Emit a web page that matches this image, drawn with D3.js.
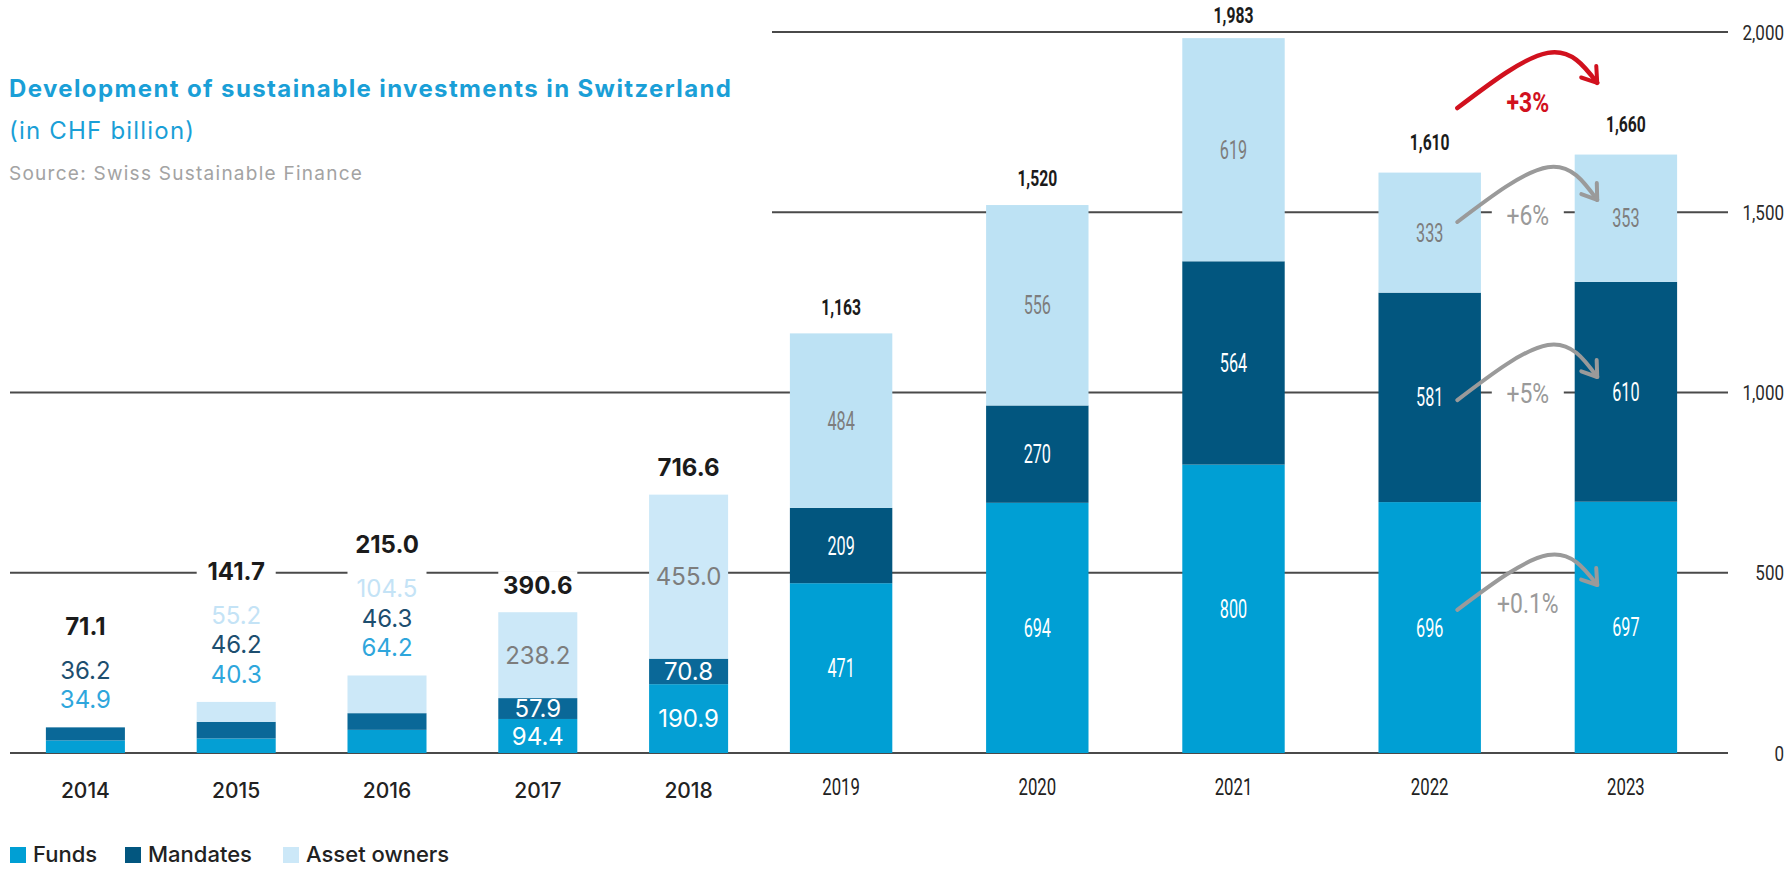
<!DOCTYPE html>
<html><head><meta charset="utf-8">
<script src="https://cdn.jsdelivr.net/npm/d3@7"></script>
<style>body{margin:0;background:#fff;} svg{display:block}</style>
</head><body>
<svg id="chart" width="1786" height="871"></svg>
<script>
// ---------------- DATA ----------------
const years = ["2014","2015","2016","2017","2018","2019","2020","2021","2022","2023"];
const funds = [34.9, 40.3, 64.2, 94.4, 190.9, 471, 694, 800, 696, 697];
const mandates = [36.2, 46.2, 46.3, 57.9, 70.8, 209, 270, 564, 581, 610];
const assetOwners = [0, 55.2, 104.5, 238.2, 455.0, 484, 556, 619, 333, 353];
const totals = [71.1, 141.7, 215.0, 390.6, 716.6, 1163, 1520, 1983, 1610, 1660];
const seriesKeys = ["funds", "mandates", "assetOwners"];
const seriesNames = ["Funds", "Mandates", "Asset owners"];
const yTicks = [0, 500, 1000, 1500, 2000];
const leftYears = years.slice(0, 5);
const rightYears = years.slice(5);
const labelsAboveYears = ["2014", "2015", "2016"];
// change annotations 2022 -> 2023 (values in CHF bn on the y scale)
const changeLabels = ["+6%", "+5%", "+0.1%", "+3%"];
const changeStart = [1473, 979, 397, 1789];
const changePeak = [1625, 1132, 549, 1942];
const changeEnd = [1534, 1043, 466, 1859];
const changeTextAt = [1492, 998, 416, 1806];
const changeIsTotal = [false, false, false, true];

// ---------------- SETUP ----------------
const svg = d3.select("#chart");
function hasFont(name){
  const c = document.createElement("canvas").getContext("2d");
  const s = "1234567890,+% abcdefgh";
  c.font = "40px monospace"; const w0 = c.measureText(s).width;
  c.font = `40px '${name}', monospace`; const w1 = c.measureText(s).width;
  return Math.abs(w0 - w1) > 0.5;
}
const narrowOK = hasFont("Liberation Sans Narrow");
const NF = narrowOK ? "'Liberation Sans Narrow', 'DejaVu Sans Condensed', Roboto, sans-serif" : "Roboto, sans-serif";
const NK = narrowOK ? 1 : 0.81;
const WF = "Inter, Roboto, 'Open Sans', sans-serif";

const colorsLeft = {funds: "#049fd4", mandates: "#0a6898", assetOwners: "#cce8f8"};
const colorsRight = {funds: "#009fd4", mandates: "#02567f", assetOwners: "#bde2f4"};
const aboveColors = {funds: "#2ea6dc", mandates: "#1d4e6f", assetOwners: "#c4e3f6"};

const y = d3.scaleLinear().domain([0, 2000]).range([753, 32]);
const xL = d3.scaleBand().domain(leftYears).range([10, 764]).paddingInner(0.476).paddingOuter(0.238);
const xR = d3.scaleBand().domain(rightYears).range([743, 1724]).paddingInner(0.478).paddingOuter(0.239);
const isLeft = yr => leftYears.includes(yr);
const xs = yr => isLeft(yr) ? xL : xR;
const bx = yr => xs(yr)(yr);
const bw = yr => xs(yr).bandwidth();
const cx = yr => bx(yr) + bw(yr) / 2;

const rows = years.map((yr, i) => ({year: yr, funds: funds[i], mandates: mandates[i], assetOwners: assetOwners[i], total: totals[i]}));
const stacked = d3.stack().keys(seriesKeys)(rows);

function ctext(sel, x, yy, txt, o) {
  const g = sel.append("g").attr("transform", `translate(${x},${yy}) scale(${(o.sx || 1) * NK},1)`);
  return g.append("text").attr("text-anchor", o.anchor || "middle").attr("dy", "0.36em")
    .attr("font-family", NF).attr("font-size", o.size).attr("font-weight", o.weight || 400)
    .attr("fill", o.fill).text(txt);
}
function wtext(sel, x, yy, txt, o) {
  return sel.append("text").attr("x", x).attr("y", yy).attr("text-anchor", o.anchor || "middle").attr("dy", o.dy || "0.36em")
    .attr("font-family", WF).attr("font-size", o.size).attr("font-weight", o.weight || 400)
    .attr("fill", o.fill).text(txt);
}

// ---------------- GRIDLINES ----------------
const gridStart = t => t >= 1500 ? 772 : 10;
svg.append("g").selectAll("line").data(yTicks).join("line")
  .attr("x1", d => gridStart(d)).attr("x2", 1728)
  .attr("y1", d => y(d)).attr("y2", d => y(d))
  .attr("stroke", "#4a4a4a").attr("stroke-width", 2.2);

// right axis labels
const axisG = svg.append("g");
yTicks.forEach(t => ctext(axisG, 1784, y(t), d3.format(",")(t), {size: 21, fill: "#2a2a2a", anchor: "end"}));

// ---------------- WHITE BACKS BEHIND LEFT LABELS ----------------
const fmtL = d3.format(".1f"), fmtR = d3.format(",.0f");
const backG = svg.append("g");
rows.filter(r => isLeft(r.year)).forEach(r => {
  let topLabelY;
  if (labelsAboveYears.includes(r.year)) {
    const n = seriesKeys.filter(k => r[k] > 0).length;
    topLabelY = y(r.total) - 28 - (n - 1) * 29.5 - 44;
  } else topLabelY = y(r.total) - 27;
  backG.append("rect").attr("x", bx(r.year)).attr("width", bw(r.year))
    .attr("y", topLabelY - 14).attr("height", y(r.total) - topLabelY + 14).attr("fill", "#fff");
});

// ---------------- BARS ----------------
const barG = svg.append("g");
stacked.forEach(s => {
  barG.append("g").selectAll("rect").data(s.filter(d => d[1] - d[0] > 0)).join("rect")
    .attr("x", d => bx(d.data.year)).attr("width", d => bw(d.data.year))
    .attr("y", d => y(d[1])).attr("height", d => y(d[0]) - y(d[1]))
    .attr("fill", d => (isLeft(d.data.year) ? colorsLeft : colorsRight)[s.key]);
});

// ---------------- LABELS ----------------
const labG = svg.append("g");
rows.forEach((r, i) => {
  const left = isLeft(r.year);
  const fmt = left ? fmtL : fmtR;
  if (labelsAboveYears.includes(r.year)) {
    let ly = y(r.total) - 28;
    seriesKeys.forEach(k => {
      if (r[k] > 0) {
        wtext(labG, cx(r.year), ly, fmt(r[k]), {size: 24, fill: aboveColors[k]});
        ly -= 29.5;
      }
    });
    wtext(labG, cx(r.year), ly + 29.5 - 44, fmt(r.total), {size: 24, weight: 700, fill: "#1b1b1b"});
  } else {
    seriesKeys.forEach((k, j) => {
      const seg = stacked[j][i];
      const my = (y(seg[0]) + y(seg[1])) / 2;
      const fill = k === "assetOwners" ? "#7d7d7d" : "#ffffff";
      if (left) wtext(labG, cx(r.year), my, fmt(r[k]), {size: 24, fill});
      else ctext(labG, cx(r.year), my, fmt(r[k]), {size: 25, sx: 0.8, fill});
    });
    if (left) wtext(labG, cx(r.year), y(r.total) - 27, fmt(r.total), {size: 24, weight: 700, fill: "#1b1b1b"});
    else {
      const off = ["2022","2023"].includes(r.year) ? 31 : Math.min(27, y(r.total) - 15);
      ctext(labG, cx(r.year), y(r.total) - off, fmt(r.total), {size: 22, weight: 700, sx: 0.88, fill: "#1b1b1b"});
    }
  }
});

// x axis labels
const xaG = svg.append("g");
leftYears.forEach(yr => wtext(xaG, cx(yr), 790, yr, {size: 21, weight: 500, fill: "#222"}));
rightYears.forEach(yr => ctext(xaG, cx(yr), 787, yr, {size: 23, sx: 0.9, fill: "#222"}));

// ---------------- CHANGE ANNOTATIONS ----------------
const defs = svg.append("defs");
[["gray", "#9a9a9a"], ["red", "#d1111e"]].forEach(([id, c]) => {
  defs.append("marker").attr("id", "ah-" + id).attr("markerUnits", "userSpaceOnUse")
    .attr("viewBox", "-20 -20 40 40").attr("markerWidth", 40).attr("markerHeight", 40)
    .attr("refX", 0).attr("refY", 0).attr("orient", "auto")
    .append("path").attr("d", "M-14,-9.5 L0,0 L-14,9.5").attr("fill", "none")
    .attr("stroke", c).attr("stroke-width", 4).attr("stroke-linecap", "round").attr("stroke-linejoin", "round");
});
const annG = svg.append("g");
const xA = "2022", xB = "2023";
const xStart = bx(xA) + bw(xA) * 0.77;
const xEnd = bx(xB) + bw(xB) * 0.22;
const xMid = (bx(xA) + bw(xA) + bx(xB)) / 2;
const xPeak = xMid + 20;
const line = d3.line().curve(d3.curveNatural);
changeLabels.forEach((lab, i) => {
  const red = changeIsTotal[i];
  const col = red ? "#d1111e" : "#9a9a9a";
  if (!red) {
    annG.append("rect").attr("x", xMid - 36).attr("width", 72)
      .attr("y", y(changeTextAt[i]) - 14).attr("height", 28).attr("fill", "#fff");
  }
  annG.append("path")
    .attr("d", line([[xStart, y(changeStart[i])], [xPeak, y(changePeak[i])], [xEnd, y(changeEnd[i])]]))
    .attr("fill", "none").attr("stroke", col).attr("stroke-width", red ? 4.5 : 4)
    .attr("stroke-linecap", "round")
    .attr("marker-end", `url(#ah-${red ? "red" : "gray"})`);
  ctext(annG, xMid, y(changeTextAt[i]), lab, {size: 27, weight: red ? 700 : 400, fill: col, sx: 1.05});
});

// ---------------- LEGEND ----------------
const legX = [10, 125, 283];
const legG = svg.append("g");
seriesKeys.forEach((k, i) => {
  legG.append("rect").attr("x", legX[i]).attr("y", 847).attr("width", 16).attr("height", 16)
    .attr("fill", k === "assetOwners" ? colorsLeft[k] : colorsRight[k]);
  legG.append("text").attr("x", legX[i] + 23).attr("y", 862).attr("font-family", WF).attr("font-size", 22)
    .attr("font-weight", 500).attr("fill", "#222").text(seriesNames[i]);
});

// ---------------- TITLE ----------------
function fitText(t, target) {
  const n = t.text().length;
  const w = t.node().getComputedTextLength();
  if (n > 1) t.attr("letter-spacing", ((target - w) / (n - 1)).toFixed(2));
  return t;
}
fitText(svg.append("text").attr("x", 9).attr("y", 97).attr("font-family", WF).attr("font-size", 24).attr("font-weight", 700)
  .attr("fill", "#1a9fd7").text("Development of sustainable investments in Switzerland"), 722);
fitText(svg.append("text").attr("x", 9).attr("y", 139).attr("font-family", WF).attr("font-size", 24).attr("font-weight", 400)
  .attr("fill", "#1a9fd7").text("(in CHF billion)"), 185);
fitText(svg.append("text").attr("x", 9).attr("y", 180).attr("font-family", WF).attr("font-size", 19).attr("font-weight", 400)
  .attr("fill", "#a3a3a3").text("Source: Swiss Sustainable Finance"), 353);
</script>
</body></html>
